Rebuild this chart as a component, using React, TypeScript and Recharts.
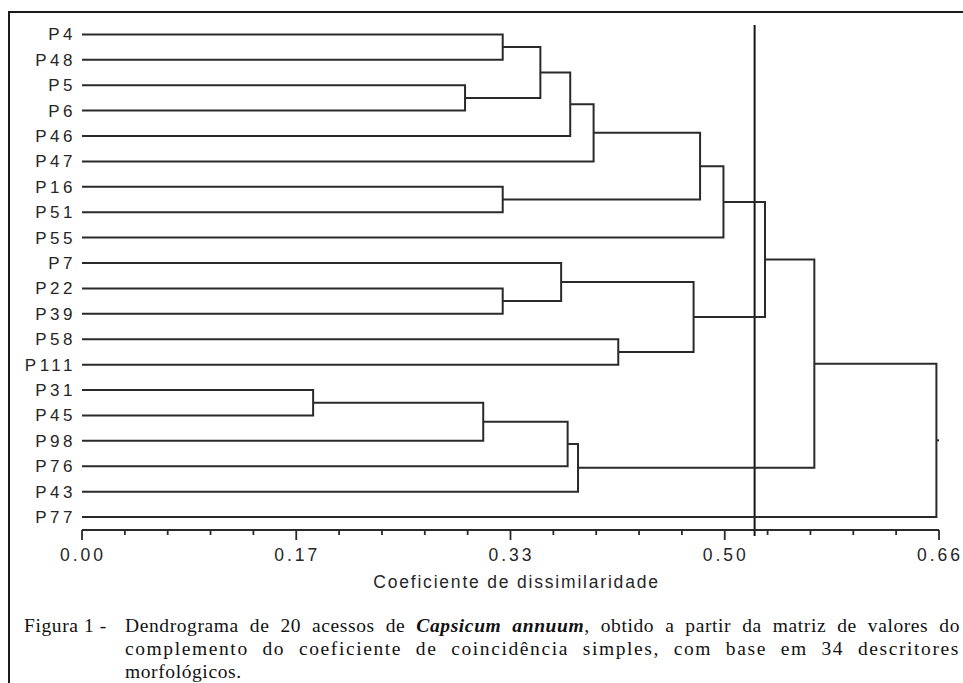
import React from 'react';
import { ComposedChart, Scatter, XAxis, YAxis, ReferenceLine } from 'recharts';

// Leaves, top to bottom
const leaves = [
  'P4', 'P48', 'P5', 'P6', 'P46', 'P47', 'P16', 'P51', 'P55', 'P7',
  'P22', 'P39', 'P58', 'P111', 'P31', 'P45', 'P98', 'P76', 'P43', 'P77',
];

// Linkage: node ids < 20 are leaves, merge k creates node 20 + k
const linkLeft = [0, 2, 20, 22, 23, 6, 24, 26, 10, 9, 12, 29, 27, 14, 33, 34, 35, 32, 37];
const linkRight = [1, 3, 21, 4, 5, 7, 25, 8, 11, 28, 13, 30, 31, 15, 16, 17, 18, 36, 19];
const linkHeight = [
  0.324, 0.295, 0.353, 0.376, 0.394, 0.324, 0.476, 0.494, 0.324, 0.369,
  0.413, 0.471, 0.526, 0.178, 0.309, 0.374, 0.382, 0.564, 0.658,
];

const cutLevel = 0.518;
const majorTicks = [0, 0.165, 0.33, 0.495, 0.66];
const majorLabels = ['0.00', '0.17', '0.33', '0.50', '0.66'];
const minorPerMajor = 5;

const LINE = '#2a2a2a';
const TEXT = '#262626';
const SANS = '"Liberation Sans", Arial, sans-serif';
const SERIF = '"Liberation Serif", "Times New Roman", serif';

// node positions: leaf index for y, merge height for x
const nodeY: number[] = leaves.map((_, i) => i);
const nodeH: number[] = leaves.map(() => 0);
const links = linkHeight.map((h, k) => {
  const l = linkLeft[k];
  const r = linkRight[k];
  nodeY.push((nodeY[l] + nodeY[r]) / 2);
  nodeH.push(h);
  return [
    { x: nodeH[l], y: nodeY[l] },
    { x: h, y: nodeY[l] },
    { x: h, y: nodeY[r] },
    { x: nodeH[r], y: nodeY[r] },
  ];
});
const rootId = nodeY.length - 1;
const rootStub = [
  { x: nodeH[rootId], y: nodeY[rootId] },
  { x: majorTicks[majorTicks.length - 1], y: nodeY[rootId] },
];

const allTicks: number[] = [];
majorTicks.forEach((t, i) => {
  allTicks.push(t);
  if (i < majorTicks.length - 1) {
    const step = (majorTicks[i + 1] - t) / minorPerMajor;
    for (let j = 1; j < minorPerMajor; j++) allTicks.push(t + step * j);
  }
});

const XTick = (props: any) => {
  const { x, y, payload } = props;
  const idx = majorTicks.findIndex((t) => Math.abs(t - payload.value) < 1e-6);
  const major = idx >= 0;
  return (
    <g>
      <line x1={x} y1={y} x2={x} y2={y + (major ? 10 : 5)} stroke={LINE} strokeWidth={1.8} />
      {major && (
        <text x={x + 1} y={y + 31} textAnchor="middle" fill={TEXT} fontSize={17.5}
          fontFamily={SANS} letterSpacing={3}>
          {majorLabels[idx]}
        </text>
      )}
    </g>
  );
};

const YTick = (props: any) => {
  const { x, y, payload } = props;
  return (
    <text x={x - 6} y={y} dy="0.355em" textAnchor="end" fill={TEXT} fontSize={17}
      fontFamily={SANS} letterSpacing={3.5}>
      {leaves[payload.value]}
    </text>
  );
};

const AxisTitle = (props: any) => {
  const vb = props.viewBox || { x: 0, y: 0, width: 0 };
  return (
    <text x={vb.x + vb.width / 2 + 6} y={vb.y + 58} textAnchor="middle" fill={TEXT}
      fontSize={17.5} fontFamily={SANS} letterSpacing={1.8}>
      Coeficiente de dissimilaridade
    </text>
  );
};

export default function App() {
  return (
    <div style={{ position: 'absolute', left: 0, top: 0, width: 963, height: 683, overflow: 'hidden', background: '#fff' }}>
      <div style={{ position: 'absolute', left: 8, top: 11, width: 1000, height: 720, border: '2px solid #1a1a1a' }} />
      <div style={{ position: 'absolute', left: 0, top: 0 }}>
        <ComposedChart width={963} height={683} margin={{ top: 25, right: 24, bottom: 93, left: 1 }}>
          <XAxis type="number" dataKey="x" domain={[0, 0.66]} allowDataOverflow ticks={allTicks}
            interval={0} tickLine={false} tickSize={0} tickMargin={0} height={60}
            axisLine={{ stroke: LINE, strokeWidth: 1.8 }} tick={<XTick />}
            label={{ content: <AxisTitle /> }} />
          <YAxis type="number" dataKey="y" domain={[-0.37, 19.51]} allowDataOverflow reversed
            ticks={leaves.map((_, i) => i)} interval={0} width={81} axisLine={false}
            tickLine={false} tickSize={0} tickMargin={0} tick={<YTick />} />
          {links.map((pts, k) => (
            <Scatter key={`link-${k}`} data={pts} line={{ stroke: LINE, strokeWidth: 2 }}
              shape={() => <g />} legendType="none" isAnimationActive={false} />
          ))}
          <Scatter data={rootStub} line={{ stroke: LINE, strokeWidth: 2 }}
            shape={() => <g />} legendType="none" isAnimationActive={false} />
          <ReferenceLine segment={[{ x: cutLevel, y: -0.37 }, { x: cutLevel, y: 19.75 }]}
            ifOverflow="visible" stroke="#151515" strokeWidth={2} />
        </ComposedChart>
      </div>
      <div style={{ position: 'absolute', left: 24, top: 614, display: 'flex', fontFamily: SERIF,
        fontSize: 19.5, lineHeight: '23px', color: '#111' }}>
        <div style={{ width: 101, whiteSpace: 'pre', letterSpacing: 0.6 }}>Figura 1 - </div>
        <div style={{ width: 835 }}>
          <div style={{ textAlign: 'justify', textAlignLast: 'justify', letterSpacing: 0.6, whiteSpace: 'nowrap' }}>
            Dendrograma de 20 acessos de <b><i>Capsicum annuum</i></b>, obtido a partir da matriz de valores do
          </div>
          <div style={{ textAlign: 'justify', textAlignLast: 'justify', letterSpacing: 1.6, whiteSpace: 'nowrap' }}>
            complemento do coeficiente de coincidência simples, com base em 34 descritores
          </div>
          <div style={{ letterSpacing: 0.6 }}>morfológicos.</div>
        </div>
      </div>
    </div>
  );
}
